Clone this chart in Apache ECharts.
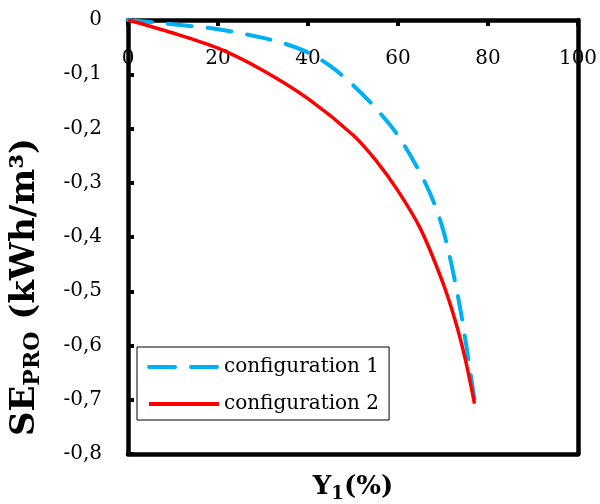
<!DOCTYPE html>
<html>
<head>
<meta charset="utf-8">
<script src="https://cdn.jsdelivr.net/npm/echarts@6/dist/echarts.min.js"></script>
<style>
  html, body { margin: 0; padding: 0; background: #fff; }
  #ch1 { width: 600px; height: 504px; }
</style>
</head>
<body>
<div id="ch1"></div>
<script>
// data
var x1 = [0, 10, 20, 30, 35, 40, 45, 50, 55, 60, 65, 68, 70, 72, 74, 76, 77];
var y1 = [0, -0.008, -0.017, -0.033, -0.044, -0.06, -0.085, -0.12, -0.162, -0.213, -0.283, -0.337, -0.386, -0.455, -0.54, -0.645, -0.70];
var x2 = [0, 10, 20, 30, 40, 50, 55, 60, 65, 70, 73, 75, 77];
var y2 = [0, -0.024, -0.052, -0.093, -0.145, -0.212, -0.258, -0.315, -0.385, -0.485, -0.562, -0.627, -0.707];
var names = ['configuration 1', 'configuration 2'];

function pairs(xs, ys) {
  return xs.map(function (v, i) { return [v, ys[i]]; });
}

var serif = 'DejaVu Serif';
var blue = '#00B0F0';
var red = '#FF0000';

window.onload = function () {
  var ch1 = echarts.init(document.getElementById('ch1'));
  var frame = { show: true, onZero: false, lineStyle: { color: '#000', width: 4.5, cap: 'round' } };
  var op1 = {
    backgroundColor: '#fff',
    animation: false,
    grid: {
      left: 128,
      right: 22,
      top: 20,
      bottom: 50,
      outerBoundsMode: 'none'
    },
    legend: {
      orient: 'vertical',
      left: 137,
      top: 347,
      padding: [10, 10, 6, 10],
      itemWidth: 70,
      itemHeight: 14,
      itemGap: 17,
      borderColor: '#000',
      borderWidth: 1,
      backgroundColor: '#fff',
      itemStyle: { opacity: 0 },
      textStyle: { fontFamily: serif, fontSize: 20, color: '#000' },
      data: [{
        name: names[0],
        lineStyle: { color: blue, width: 4, type: [26, 16], cap: 'round' }
      }, {
        name: names[1],
        lineStyle: { color: red, width: 4 }
      }]
    },
    xAxis: [{
      type: 'value',
      position: 'top',
      min: 0,
      max: 100,
      interval: 20,
      axisLine: frame,
      axisTick: { show: true, inside: true, length: 6, lineStyle: { color: '#000', width: 4 } },
      axisLabel: { inside: true, margin: 29, fontFamily: serif, fontSize: 20, color: '#000' },
      splitLine: { show: false }
    }, {
      type: 'value',
      position: 'bottom',
      min: 0,
      max: 100,
      name: '{a|Y}{b|1}{a|(%)}',
      nameLocation: 'middle',
      nameGap: 17,
      nameTextStyle: {
        rich: {
          a: { fontFamily: serif, fontSize: 26, fontWeight: 'bold', color: '#000' },
          b: { fontFamily: serif, fontSize: 18, fontWeight: 'bold', color: '#000', padding: [14, 0, 0, 0] }
        }
      },
      axisLine: frame,
      axisTick: { show: false },
      axisLabel: { show: false },
      splitLine: { show: false }
    }],
    yAxis: [{
      type: 'value',
      position: 'left',
      min: -0.8,
      max: 0,
      interval: 0.1,
      name: '{a|SE}{b|PRO}{a| (kWh/m³)}',
      nameLocation: 'middle',
      nameRotate: 90,
      nameGap: 84,
      nameTextStyle: {
        padding: [0, 100, 0, 0],
        rich: {
          a: { fontFamily: serif, fontSize: 34, fontWeight: 'bold', color: '#000' },
          b: { fontFamily: serif, fontSize: 22, fontWeight: 'bold', color: '#000', padding: [16, 0, 0, 0] }
        }
      },
      axisLine: frame,
      axisTick: { show: true, inside: true, length: 6, lineStyle: { color: '#000', width: 4 } },
      axisLabel: {
        margin: 26,
        fontFamily: serif,
        fontSize: 20,
        color: '#000',
        formatter: function (v) {
          return (Math.round(v * 10) / 10).toString().replace('.', ',');
        }
      },
      splitLine: { show: false }
    }, {
      type: 'value',
      position: 'right',
      min: -0.8,
      max: 0,
      axisLine: frame,
      axisTick: { show: false },
      axisLabel: { show: false },
      splitLine: { show: false }
    }],
    series: [{
      name: names[0],
      type: 'line',
      xAxisIndex: 0,
      yAxisIndex: 0,
      smooth: 0.3,
      showSymbol: false,
      symbol: 'none',
      z: 3,
      itemStyle: { color: blue },
      lineStyle: { color: blue, width: 4, type: [24, 16], cap: 'round' },
      data: pairs(x1, y1)
    }, {
      name: names[1],
      type: 'line',
      xAxisIndex: 0,
      yAxisIndex: 0,
      smooth: 0.3,
      showSymbol: false,
      symbol: 'none',
      z: 4,
      itemStyle: { color: red },
      lineStyle: { color: red, width: 3.5 },
      data: pairs(x2, y2)
    }]
  };
  ch1.setOption(op1);
};
</script>
</body>
</html>
